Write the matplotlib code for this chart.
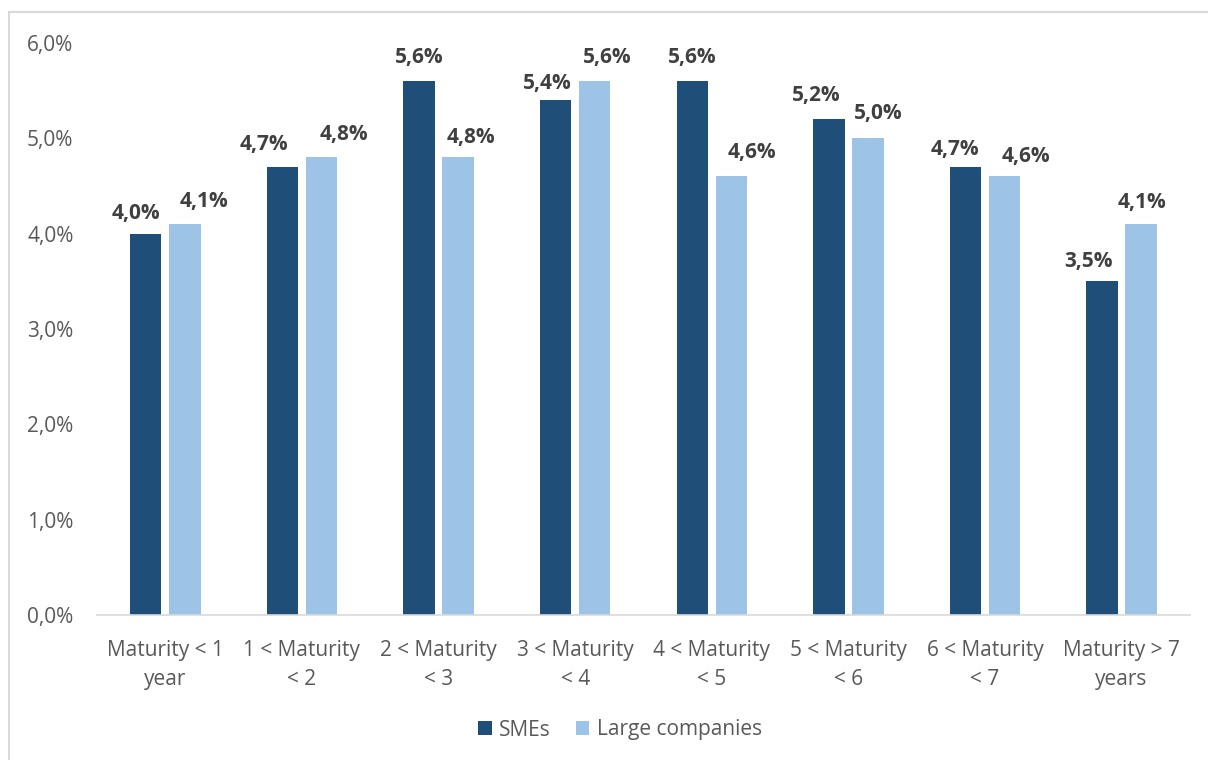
import matplotlib
matplotlib.use("Agg")
import matplotlib.pyplot as plt
import numpy as np
from matplotlib.patches import Rectangle

categories = [
    "Maturity < 1\nyear",
    "1 < Maturity\n< 2",
    "2 < Maturity\n< 3",
    "3 < Maturity\n< 4",
    "4 < Maturity\n< 5",
    "5 < Maturity\n< 6",
    "6 < Maturity\n< 7",
    "Maturity > 7\nyears",
]
smes = [4.0, 4.7, 5.6, 5.4, 5.6, 5.2, 4.7, 3.5]
large = [4.1, 4.8, 4.8, 5.6, 4.6, 5.0, 4.6, 4.1]

# label nudges (pixels) so neighbouring value labels don't collide
smes_dx = [-10, -18, 0, -8, 0, -13, -10, -14]
smes_dy = [20, 22, 24, 17, 24, 24, 17, 20]
large_dx = [19, 22, 13, 13, 21, 10, 21, 1]
large_dy = [23, 23, 20, 24, 24, 25, 20, 22]

DARK = "#1F4E79"
LIGHT = "#9DC3E6"
TEXT = "#595959"
LABEL = "#404040"
FS = 15

plt.rcParams["font.family"] = ["Open Sans", "DejaVu Sans"]


def pct(v):
    return f"{v:.1f}%".replace(".", ",")


fig = plt.figure(figsize=(12.08, 7.6), dpi=100)
ax = fig.add_axes([0.0803, 0.1908, 0.9047, 0.7526])

# outer chart frame
fig.patches.append(Rectangle((9 / 1208, -0.05), 1.2, 1 - 12 / 760 + 0.05,
                             transform=fig.transFigure, fill=False,
                             edgecolor="#D9D9D9", linewidth=1.5))

x = np.arange(len(categories))
w = 0.23
off = 0.143
b1 = ax.bar(x - off, smes, w, color=DARK, label="SMEs")
b2 = ax.bar(x + off, large, w, color=LIGHT, label="Large companies")

px = 72 / fig.dpi
for bars, vals, dxs, dys in ((b1, smes, smes_dx, smes_dy),
                             (b2, large, large_dx, large_dy)):
    for r, v, dx, dy in zip(bars, vals, dxs, dys):
        ax.annotate(pct(v), (r.get_x() + r.get_width() / 2, v),
                    xytext=(dx * px, dy * px), textcoords="offset points",
                    ha="center", va="center", fontsize=15,
                    fontweight="bold", color=LABEL)

ax.set_xlim(-0.5, len(categories) - 0.5)
ax.set_ylim(0, 6)
ax.set_yticks(np.arange(0, 7, 1))
ax.set_yticklabels([pct(t) for t in range(7)])
ax.set_xticks(x)
ax.set_xticklabels(categories, linespacing=1.5)

ax.tick_params(axis="y", length=0, pad=17, labelsize=FS, labelcolor=TEXT)
ax.tick_params(axis="x", length=0, pad=18, labelsize=FS, labelcolor=TEXT)
for s in ("left", "right", "top"):
    ax.spines[s].set_visible(False)
ax.spines["bottom"].set_color("#D9D9D9")
ax.spines["bottom"].set_linewidth(1.2)

leg = fig.legend(loc="center", bbox_to_anchor=(620 / 1208, (760 - 730) / 760),
                 ncol=2, frameon=False, fontsize=FS, handlelength=0.65,
                 handleheight=0.65, handletextpad=0.35, columnspacing=1.2)
for t in leg.get_texts():
    t.set_color(TEXT)

fig.savefig("out.png", dpi=100)
